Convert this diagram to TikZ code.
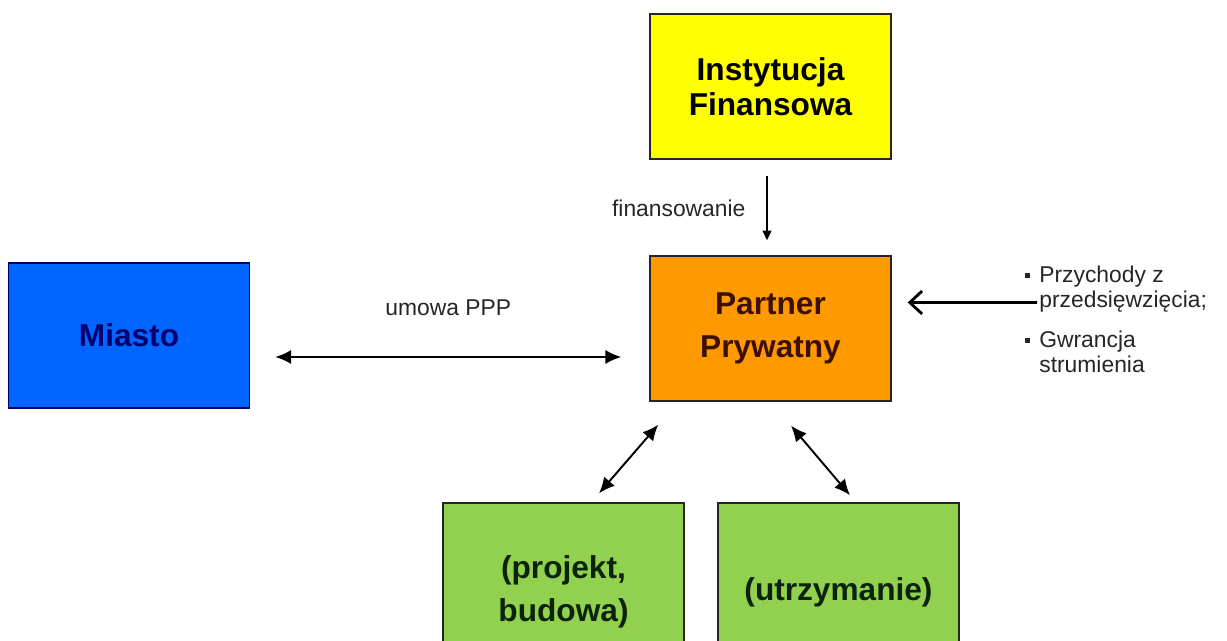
\documentclass[tikz,border=0pt]{standalone}
\usepackage{fontspec}
\setmainfont{Liberation Sans}
\usetikzlibrary{arrows.meta}

\newcommand{\sqbullet}{\rule[0.2em]{0.1cm}{0.1cm}}

\begin{document}
\begin{tikzpicture}
    % Define colors
    \definecolor{fundcolor}{RGB}{255,255,0}
    \definecolor{partnercolor}{RGB}{255,153,0}
    \definecolor{citycolor}{RGB}{0,102,255}
    \definecolor{taskcolor}{RGB}{146,208,80}
    \definecolor{citytext}{RGB}{0,0,110}
    \definecolor{partnertext}{RGB}{60,15,0}
    \definecolor{tasktext}{RGB}{10,35,10}

    % Styles
    \tikzset{
        box/.style={draw=black!85, line width=0.8pt, minimum width=4.82cm, minimum height=2.9cm,
            align=center, font=\fontsize{18}{24.5}\selectfont\bfseries},
        taskbox/.style={box, fill=taskcolor, text=tasktext, minimum height=3.56cm},
        smalltext/.style={font=\fontsize{13}{14.3}\selectfont, text=black!85},
        flow/.style={line width=0.8pt, -{Triangle[length=5.5pt,width=5pt]}},
        twoway/.style={line width=1.1pt, {Latex[length=9pt,width=8pt]}-{Latex[length=9pt,width=8pt]}},
        income/.style={line width=1.6pt, -{Straight Barb[length=7pt,width=13pt]}}
    }

    % Canvas
    \useasboundingbox (0,0) rectangle (24.54,12.82);

    % Boxes
    \node[box, fill=fundcolor, font=\fontsize{18}{20}\selectfont\bfseries] (fund) at (15.41,11.09) {Instytucja\\Finansowa};
    \node[box, fill=partnercolor, text=partnertext] (partner) at (15.41,6.25) {Partner\\Prywatny};
    \node[box, fill=citycolor, draw=citytext, text=citytext] (city) at (2.58,6.11) {Miasto};
    \node[taskbox] (design) at (11.27,0.98) {(projekt,\\budowa)};
    \node[taskbox] (upkeep) at (16.77,0.98) {(utrzymanie)};

    % Revenue note
    \node[smalltext, anchor=west, inner sep=0pt] (revenue) at (20.50,6.37) {%
        \begin{tabular}{@{}l@{\hspace{0.18cm}}l@{}}
            \sqbullet & Przychody z\\
                      & przedsięwzięcia;\\[0.28cm]
            \sqbullet & Gwrancja\\
                      & strumienia
        \end{tabular}};

    % Connections
    \draw[flow] ([shift={(-0.07,-0.32)}]fund.south) -- ([shift={(-0.07,0.30)}]partner.north)
        node[midway, left=0.3cm, smalltext] {finansowanie};
    \draw[twoway] ([shift={(0.50,-0.43)}]city.east) -- ([shift={(-0.56,-0.57)}]partner.west)
        node[midway, yshift=0.98cm, smalltext] {umowa PPP};
    \draw[twoway] ([shift={(0.71,0.18)}]design.north) -- ([shift={(0.18,-0.46)}]partner.south west);
    \draw[twoway] ([shift={(0.41,-0.48)}]partner.south) -- ([shift={(0.23,0.14)}]upkeep.north);
    \draw[income] ([shift={(0.24,0.40)}]revenue.west) -- ([shift={(0.32,0.52)}]partner.east);
\end{tikzpicture}
\end{document}
